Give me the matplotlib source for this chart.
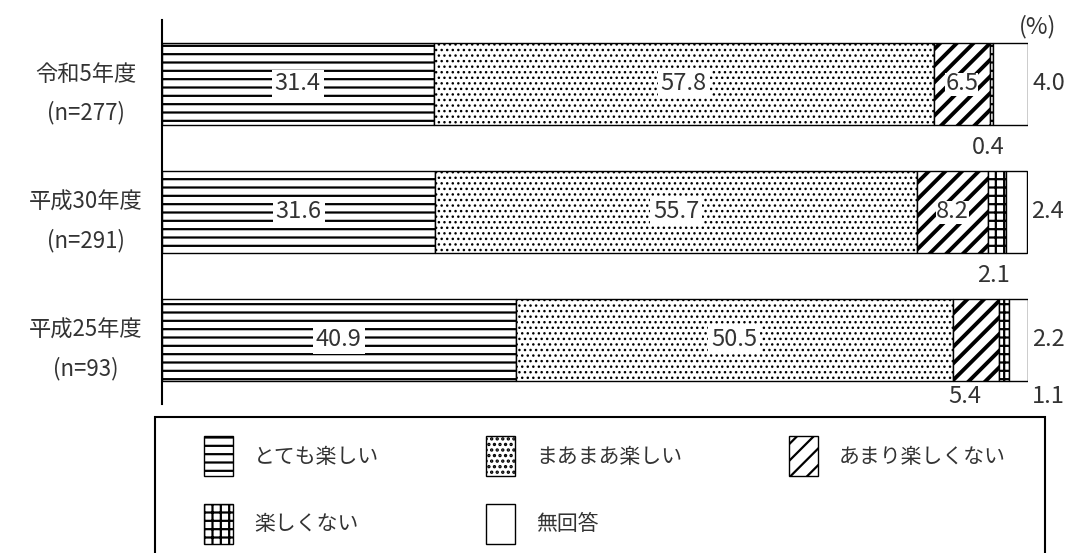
import numpy as np
import matplotlib
matplotlib.use("Agg")
import matplotlib.pyplot as plt
from matplotlib.patches import Rectangle

plt.rcParams['font.family'] = ['Noto Sans CJK JP', 'DejaVu Sans']
plt.rcParams['hatch.linewidth'] = 1.6

# data
years = ["令和5年度\n(n=277)", "平成30年度\n(n=291)", "平成25年度\n(n=93)"]
categories = ["とても楽しい", "まあまあ楽しい", "あまり楽しくない", "楽しくない", "無回答"]
values = np.array([
    [31.4, 57.8, 6.5, 0.4, 4.0],
    [31.6, 55.7, 8.2, 2.1, 2.4],
    [40.9, 50.5, 5.4, 1.1, 2.2],
])
hatches = ["--", "...", "//", "++", ""]
hatch_lw = [1.6, 1.0, 2.8, 1.6, 1.0]

fig = plt.figure(figsize=(10.73, 5.53), dpi=100)
ax = fig.add_axes([162/1073, 1-404/553, 866/1073, 384/553])

y = np.arange(len(years))
left = np.zeros(len(years))
handles = []
for j, cat in enumerate(categories):
    b = ax.barh(y, values[:, j], left=left, height=0.64, color="white",
                edgecolor="black", hatch=hatches[j], linewidth=1.0, label=cat)
    for p in b:
        if hasattr(p, "set_hatch_linewidth"):
            p.set_hatch_linewidth(hatch_lw[j])
    handles.append(b)
    left = left + values[:, j]

ax.set_xlim(0, 100.1)
ax.set_ylim(2.5, -0.5)
ax.set_yticks(y)
ax.set_yticklabels(years, fontsize=16, linespacing=1.8, ha="center", color="#333333")
ax.tick_params(axis="y", length=0, pad=55)
ax.set_xticks([])
for s in ["top", "right", "bottom"]:
    ax.spines[s].set_visible(False)
ax.spines["left"].set_linewidth(1.5)

fs = 17
lab_kw = dict(fontsize=fs, color="#333333", va="center", ha="center")
box = dict(facecolor="white", edgecolor="none", pad=2)
# labels inside the bars
for i in range(len(years)):
    cum = np.concatenate([[0], np.cumsum(values[i])])
    ninside = 3 if i < 2 else 2
    for j in range(ninside):
        xc = (cum[j] + cum[j+1]) / 2
        ax.text(xc, i, f"{values[i, j]:.1f}",
                bbox=box if j < 2 else dict(facecolor="white", edgecolor="none", pad=0),
                **lab_kw)
    # no answer, right of bar
    ax.text(cum[5] + 0.5, i, f"{values[i, 4]:.1f}", fontsize=fs, color="#333333",
            va="center", ha="left", clip_on=False)

# small values below bars
ax.text(np.cumsum(values[0])[3] - 0.6, 0.5, f"{values[0, 3]:.1f}", **lab_kw)
ax.text(np.cumsum(values[1])[3] - 1.5, 1.5, f"{values[1, 3]:.1f}", **lab_kw)
ax.text(np.cumsum(values[2])[2] - 4.0, 2.44, f"{values[2, 2]:.1f}", clip_on=False, **lab_kw)
ax.text(np.cumsum(values[2])[3] + 4.5, 2.44, f"{values[2, 3]:.1f}", clip_on=False, **lab_kw)

ax.text(101.2, -0.45, "(%)", fontsize=fs, color="#333333", ha="center",
        va="center", clip_on=False)

# legend frame
fig.add_artist(Rectangle((155/1073, -0.05), 890/1073, 1-417/553 + 0.05,
                         transform=fig.transFigure, facecolor="none",
                         edgecolor="black", linewidth=1.5))

# legend fills column by column, reorder to read row by row
order = [0, 3, 1, 4, 2]
leg = fig.legend([handles[k] for k in order], [categories[k] for k in order],
                 loc="upper left", bbox_to_anchor=(200/1073, 0, 810/1073, 1-432/553),
                 mode="expand", ncol=3, fontsize=15, frameon=False,
                 handlelength=1.4, handleheight=2.6,
                 borderpad=0.2, labelspacing=1.3, columnspacing=2.0,
                 handletextpad=1.0, borderaxespad=0)
for t in leg.get_texts():
    t.set_color("#333333")

fig.savefig("out.png", dpi=100)
